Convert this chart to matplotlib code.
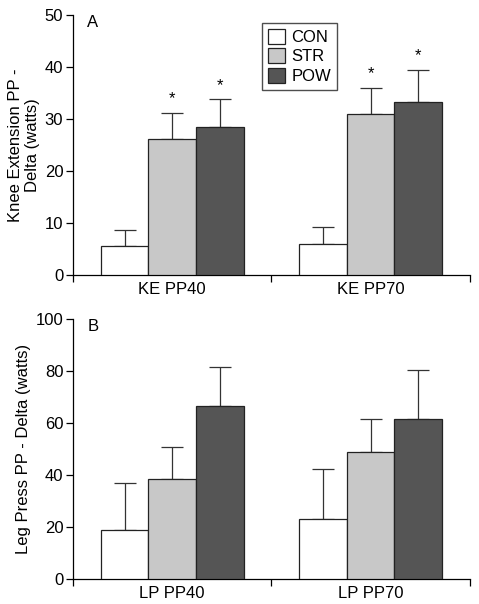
import numpy as np
import matplotlib
matplotlib.use("Agg")
import matplotlib.pyplot as plt
from matplotlib.patches import Patch

plt.rcParams['font.family'] = ['Liberation Sans', 'DejaVu Sans']

groups = ['CON', 'STR', 'POW']
colors = ['#ffffff', '#c8c8c8', '#555555']

ke_labels = ['KE PP40', 'KE PP70']
ke_means = {'CON': [5.6, 6.0], 'STR': [26.2, 31.0], 'POW': [28.5, 33.2]}
ke_err = {'CON': [3.0, 3.2], 'STR': [5.0, 5.0], 'POW': [5.3, 6.2]}
ke_star = {'CON': [False, False], 'STR': [True, True], 'POW': [True, True]}

lp_labels = ['LP PP40', 'LP PP70']
lp_means = {'CON': [18.8, 23.1], 'STR': [38.6, 48.7], 'POW': [66.4, 61.5]}
lp_err = {'CON': [18.2, 19.2], 'STR': [12.2, 12.9], 'POW': [15.1, 18.9]}

width = 0.24
fs = 12


def draw_panel(ax, labels, means, errs, ymax, step, ylabel, letter, stars=None):
    x = np.arange(len(labels))
    for k, g in enumerate(groups):
        pos = x + (k - 1) * width
        ax.bar(pos, means[g], width, color=colors[k], edgecolor='#222222',
               linewidth=0.9, zorder=3)
        ax.errorbar(pos, means[g], yerr=[np.zeros(len(labels)), errs[g]],
                    fmt='none', ecolor='#333333', elinewidth=0.9,
                    capsize=8, capthick=0.9, zorder=2)
        if stars is not None:
            for i in range(len(labels)):
                if stars[g][i]:
                    top = means[g][i] + errs[g][i]
                    ax.text(pos[i], top + ymax * 0.025, '*', ha='center',
                            va='bottom', fontsize=fs)
    ax.set_xlim(-0.5, 1.5)
    ax.set_ylim(0, ymax)
    ax.set_yticks(np.arange(0, ymax + 1, step))
    ax.set_xticks(x)
    ax.set_xticklabels(labels, fontsize=fs)
    ax.set_xticks([-0.5, 0.5, 1.5], minor=True)
    ax.tick_params(axis='x', which='major', length=0, pad=5)
    ax.tick_params(axis='x', which='minor', length=5, width=0.9)
    ax.tick_params(axis='y', length=5, width=0.9, labelsize=fs, pad=2)
    ax.spines['top'].set_visible(False)
    ax.spines['right'].set_visible(False)
    ax.spines['left'].set_linewidth(0.9)
    ax.spines['bottom'].set_linewidth(0.9)
    ax.set_ylabel(ylabel, fontsize=fs, labelpad=3)
    ax.text(0.05, 0.97, letter, transform=ax.transAxes, fontsize=fs,
            ha='center', va='center')


fig = plt.figure(figsize=(4.79, 6.04), dpi=100)
ax1 = fig.add_axes([0.1524, 0.5447, 0.8286, 0.4305])
ax2 = fig.add_axes([0.1524, 0.0414, 0.8286, 0.4305])

draw_panel(ax1, ke_labels, ke_means, ke_err, 50, 10,
           'Knee Extension PP -\nDelta (watts)', 'A', stars=ke_star)
draw_panel(ax2, lp_labels, lp_means, lp_err, 100, 20,
           'Leg Press PP - Delta (watts)', 'B')

handles = [Patch(facecolor=c, edgecolor='#222222', linewidth=0.9) for c in colors]
ax1.legend(handles, groups, loc='upper left', bbox_to_anchor=(0.477, 0.97),
           fontsize=fs, frameon=True, fancybox=False, edgecolor='#222222',
           handlelength=1.0, handleheight=1.0, handletextpad=0.4,
           borderpad=0.35, labelspacing=0.2, borderaxespad=0)

fig.savefig('out.png', dpi=100)
